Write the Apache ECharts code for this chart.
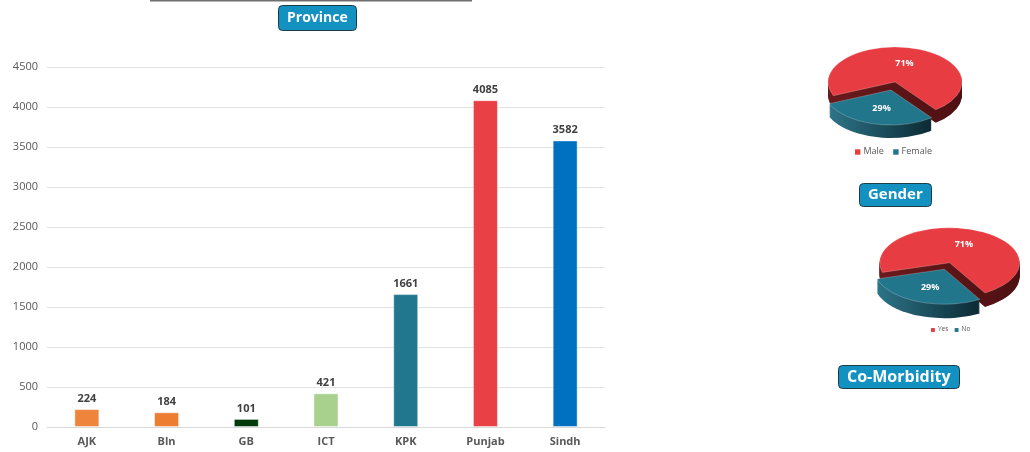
<!DOCTYPE html>
<html>
<head>
<meta charset="utf-8">
<script src="https://cdn.jsdelivr.net/npm/echarts@6/dist/echarts.min.js"></script>
<style>
  html, body { margin: 0; padding: 0; background: #fff; }
  #main { width: 1030px; height: 452px; }
</style>
</head>
<body>
<div id="main"></div>
<script>
// 数据
var provinces = ['AJK', 'Bln', 'GB', 'ICT', 'KPK', 'Punjab', 'Sindh'];
var cases = [224, 184, 101, 421, 1661, 4085, 3582];
var barColors = ['#EF843C', '#ED7D31', '#033A09', '#A9D18E', '#21788E', '#E84045', '#0070C0'];

var genderNames = ['Male', 'Female'];
var genderShare = [71, 29];
var comorbNames = ['Yes', 'No'];
var comorbShare = [71, 29];

var yMax = 4500;
var yStep = 500;

var pieTop = ['#E63C42', '#22768B'];
var pieSide = [
    ['#6a1a1c', '#4e1012'],
    ['#2c7488', '#0c2a34']
];

var FONT = '"Open Sans", "Liberation Sans", sans-serif';

// 伪3D饼图: 每个扇区由一叠暗色扇形(侧面)加一个顶面组成
function pie3d(values, cfg) {
    var total = values.reduce(function (a, b) { return a + b; }, 0);
    return function (params, api) {
        var i = params.dataIndex;
        var before = 0;
        for (var k = 0; k < i; k++) before += values[k];
        var s = (cfg.start + 360 * before / total) * Math.PI / 180;
        var e = s + 2 * Math.PI * values[i] / total;
        var mid = (s + e) / 2;
        var sy = cfg.ry / cfg.rx;
        var x = cfg.cx + cfg.explode * Math.cos(mid);
        var y = cfg.cy + cfg.explode * Math.sin(mid) * sy;
        var children = [];
        for (var d = cfg.depth; d >= 1; d--) {
            children.push({
                type: 'sector',
                x: x, y: y + d, scaleY: sy,
                shape: {cx: 0, cy: 0, r: cfg.rx, r0: 0, startAngle: s, endAngle: e, clockwise: true},
                style: {
                    fill: {
                        type: 'linear', x: 0, y: 0, x2: 1, y2: 0,
                        colorStops: [{offset: 0, color: pieSide[i][0]}, {offset: 1, color: pieSide[i][1]}]
                    }
                },
                z2: 1 + i
            });
        }
        children.push({
            type: 'sector',
            x: x, y: y, scaleY: sy,
            shape: {cx: 0, cy: 0, r: cfg.rx, r0: 0, startAngle: s, endAngle: e, clockwise: true},
            style: {fill: pieTop[i], stroke: 'rgba(255,255,255,0.5)', lineWidth: 0.6, strokeNoScale: true},
            z2: 10 + i
        });
        children.push({
            type: 'text',
            x: x + 0.55 * cfg.rx * Math.cos(mid),
            y: y + 0.55 * cfg.ry * Math.sin(mid),
            style: {
                text: Math.round(100 * values[i] / total) + '%',
                fill: '#fff',
                font: 'bold ' + cfg.font + 'px ' + FONT,
                align: 'center',
                verticalAlign: 'middle'
            },
            z2: 20
        });
        return {type: 'group', children: children};
    };
}

// 小图例
function legendItems(names, x, y, size, gap) {
    var items = [];
    var cur = x;
    names.forEach(function (n, i) {
        items.push({
            type: 'rect', left: cur, top: y - size * 0.3,
            shape: {width: size * 0.6, height: size * 0.6},
            style: {fill: pieTop[i]}
        });
        items.push({
            type: 'text', left: cur + size * 0.6 + 3, top: y - size * 0.6,
            style: {text: n, fill: '#595959', font: size + 'px ' + FONT}
        });
        cur += size * 0.6 + 3 + n.length * size * 0.55 + gap;
    });
    return items;
}

function boxTitle(text, left, top, size, padV) {
    return {
        text: text,
        left: left,
        top: top,
        backgroundColor: '#1391C0',
        borderColor: '#1d3c48',
        borderWidth: 1,
        borderRadius: 4,
        padding: [padV, 9, padV, 9],
        textStyle: {color: '#fff', fontFamily: FONT, fontWeight: 'bold', fontSize: size, lineHeight: 18}
    };
}

var option = {
    animation: false,
    title: [
        boxTitle('Province', 278, 5, 14, 4),
        boxTitle('Gender', 859, 183, 15, 3),
        boxTitle('Co-Morbidity', 838, 365, 16, 3)
    ],
    graphic: [
        {type: 'line', shape: {x1: 150, y1: 0.5, x2: 472, y2: 0.5}, style: {stroke: '#6e6e6e', lineWidth: 2}}
    ].concat(legendItems(genderNames, 855, 152, 9, 10))
     .concat(legendItems(comorbNames, 931, 330, 6.5, 6)),
    grid: {left: 47, right: 425, top: 67, bottom: 25},
    xAxis: {
        type: 'category',
        data: provinces,
        axisLine: {lineStyle: {color: '#D9D9D9'}},
        axisTick: {show: false},
        axisLabel: {color: '#595959', fontFamily: FONT, fontWeight: 'bold', fontSize: 11, margin: 9}
    },
    yAxis: {
        type: 'value',
        min: 0,
        max: yMax,
        interval: yStep,
        axisLine: {show: false},
        axisTick: {show: false},
        splitLine: {lineStyle: {color: '#E3E3E3'}},
        axisLabel: {
            color: '#595959', fontFamily: FONT, fontSize: 11, margin: 9,
            formatter: function (v) { return String(v); }
        }
    },
    series: [
        {
            type: 'bar',
            barWidth: 25,
            data: cases.map(function (v, i) {
                return {value: v, itemStyle: {color: barColors[i], borderColor: 'rgba(255,255,255,0.45)', borderWidth: 1}};
            }),
            label: {
                show: true, position: 'top', distance: 5,
                color: '#404040', fontFamily: FONT, fontWeight: 'bold', fontSize: 11
            }
        },
        {
            type: 'custom',
            coordinateSystem: 'none',
            data: genderShare.map(function (v, i) { return {name: genderNames[i], value: v}; }),
            renderItem: pie3d(genderShare, {cx: 893, cy: 86, rx: 67, ry: 35, depth: 13, explode: 8, start: 157, font: 9})
        },
        {
            type: 'custom',
            coordinateSystem: 'none',
            data: comorbShare.map(function (v, i) { return {name: comorbNames[i], value: v}; }),
            renderItem: pie3d(comorbShare, {cx: 947, cy: 266, rx: 70, ry: 35, depth: 14, explode: 7, start: 164, font: 9})
        }
    ]
};

var myChart = echarts.init(document.getElementById('main'));
myChart.setOption(option);
</script>
</body>
</html>
